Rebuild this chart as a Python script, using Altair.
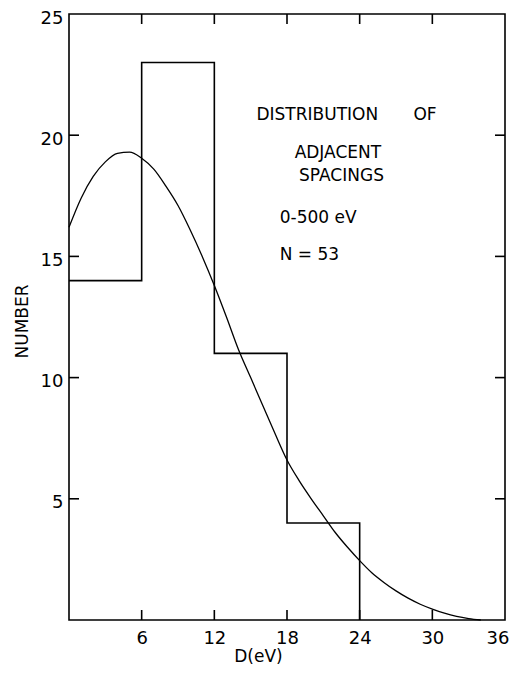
import altair as alt
import pandas as pd

# Histogram (bin left edges and counts)
bin_left = [0, 6, 12, 18, 24]
counts = [14, 23, 11, 4, 0]

# Fitted curve
curve_x = [0, 1, 2, 3, 4, 5, 6, 7, 8, 9, 10, 11, 12, 13, 14, 15, 16, 17,
           18, 19, 20, 21, 22, 23, 24, 25, 26, 27, 28, 29, 30, 31, 32, 33, 34]
curve_y = [16.2, 17.4, 18.3, 18.9, 19.25, 19.3, 19.05, 18.6, 17.9, 17.1, 16.1,
           15.0, 13.8, 12.5, 11.15, 10.0, 8.85, 7.7, 6.6, 5.75, 5.0, 4.3, 3.6,
           3.0, 2.45, 1.95, 1.55, 1.2, 0.9, 0.65, 0.45, 0.28, 0.15, 0.06, 0.0]

x_ticks = [6, 12, 18, 24, 30, 36]
y_ticks = [5, 10, 15, 20, 25]

# Annotation texts (data coordinates)
center_text = ["DISTRIBUTION", "OF", "ADJACENT", "SPACINGS"]
center_x = [20.5, 29.4, 22.2, 22.5]
center_y = [20.83, 20.83, 19.27, 18.32]
left_text = ["0-500 eV", "N = 53"]
left_x = [17.4, 17.4]
left_y = [16.58, 15.06]

FONT = "DejaVu Sans"
W, H = 436, 606
X0, X1, Y0, Y1 = 0, 36, 0, 25
TICK_PX = 10
tx = TICK_PX / W * (X1 - X0)   # inward tick length in x data units
ty = TICK_PX / H * (Y1 - Y0)   # inward tick length in y data units

xs = alt.Scale(domain=[X0, X1], nice=False, zero=False)
ys = alt.Scale(domain=[Y0, Y1], nice=False, zero=False)

hist = pd.DataFrame({"x": bin_left, "y": counts})
curve = pd.DataFrame({"x": curve_x, "y": curve_y})
ctext = pd.DataFrame({"t": center_text, "x": center_x, "y": center_y})
ltext = pd.DataFrame({"t": left_text, "x": left_x, "y": left_y})
xt = pd.DataFrame({"v": x_ticks[:-1]})
yt = pd.DataFrame({"v": y_ticks[:-1]})

label_axis = dict(ticks=False, tickSize=0, domain=False, grid=False,
                  labelFont=FONT, labelFontSize=18, labelColor="black",
                  titleFont=FONT, titleFontSize=17, titleFontWeight="normal",
                  titleColor="black")

step = alt.Chart(hist).mark_line(interpolate="step-after", color="black",
                                 strokeWidth=1.6).encode(
    x=alt.X("x:Q", scale=xs,
            axis=alt.Axis(values=x_ticks, orient="bottom", labelPadding=9,
                          labelFlush=True, labelFlushOffset=4,
                          title="D(eV)", titleX=189, titleY=36,
                          titleBaseline="middle", **label_axis)),
    y=alt.Y("y:Q", scale=ys,
            axis=alt.Axis(values=y_ticks, orient="left", labelPadding=6,
                          labelOffset=4,
                          title="NUMBER", titleAngle=270, titleX=-47,
                          titleY=307, titleBaseline="middle", **label_axis)),
)

line = alt.Chart(curve).mark_line(interpolate="monotone", color="black",
                                  strokeWidth=1.3).encode(
    x=alt.X("x:Q", scale=xs, axis=None),
    y=alt.Y("y:Q", scale=ys, axis=None),
)

def xtick(lo, hi):
    return alt.Chart(xt).transform_calculate(a=str(lo), b=str(hi)).mark_rule(
        color="black", strokeWidth=1.6).encode(
        x=alt.X("v:Q", scale=xs, axis=None),
        y=alt.Y("a:Q", scale=ys, axis=None),
        y2="b:Q",
    )

def ytick(lo, hi):
    return alt.Chart(yt).transform_calculate(a=str(lo), b=str(hi)).mark_rule(
        color="black", strokeWidth=1.6).encode(
        y=alt.Y("v:Q", scale=ys, axis=None),
        x=alt.X("a:Q", scale=xs, axis=None),
        x2="b:Q",
    )

ticks = [xtick(Y0, Y0 + ty), xtick(Y1 - ty, Y1),
         ytick(X0, X0 + tx), ytick(X1 - tx, X1)]

t1 = alt.Chart(ctext).mark_text(font=FONT, fontSize=17, align="center",
                                baseline="middle", color="black").encode(
    x=alt.X("x:Q", scale=xs, axis=None),
    y=alt.Y("y:Q", scale=ys, axis=None),
    text="t:N",
)
t2 = alt.Chart(ltext).mark_text(font=FONT, fontSize=17, align="left",
                                baseline="middle", color="black").encode(
    x=alt.X("x:Q", scale=xs, axis=None),
    y=alt.Y("y:Q", scale=ys, axis=None),
    text="t:N",
)

chart = alt.layer(step, line, *ticks, t1, t2).resolve_axis(
    x="independent", y="independent"
).properties(
    width=W, height=H,
    autosize=alt.AutoSizeParams(type="none"),
    padding={"left": 61, "top": 6, "right": 5, "bottom": 45},
    background="white",
).configure_view(stroke="black", strokeWidth=1.6)

chart.save("out.html", embed_options={"renderer": "svg", "actions": False})
